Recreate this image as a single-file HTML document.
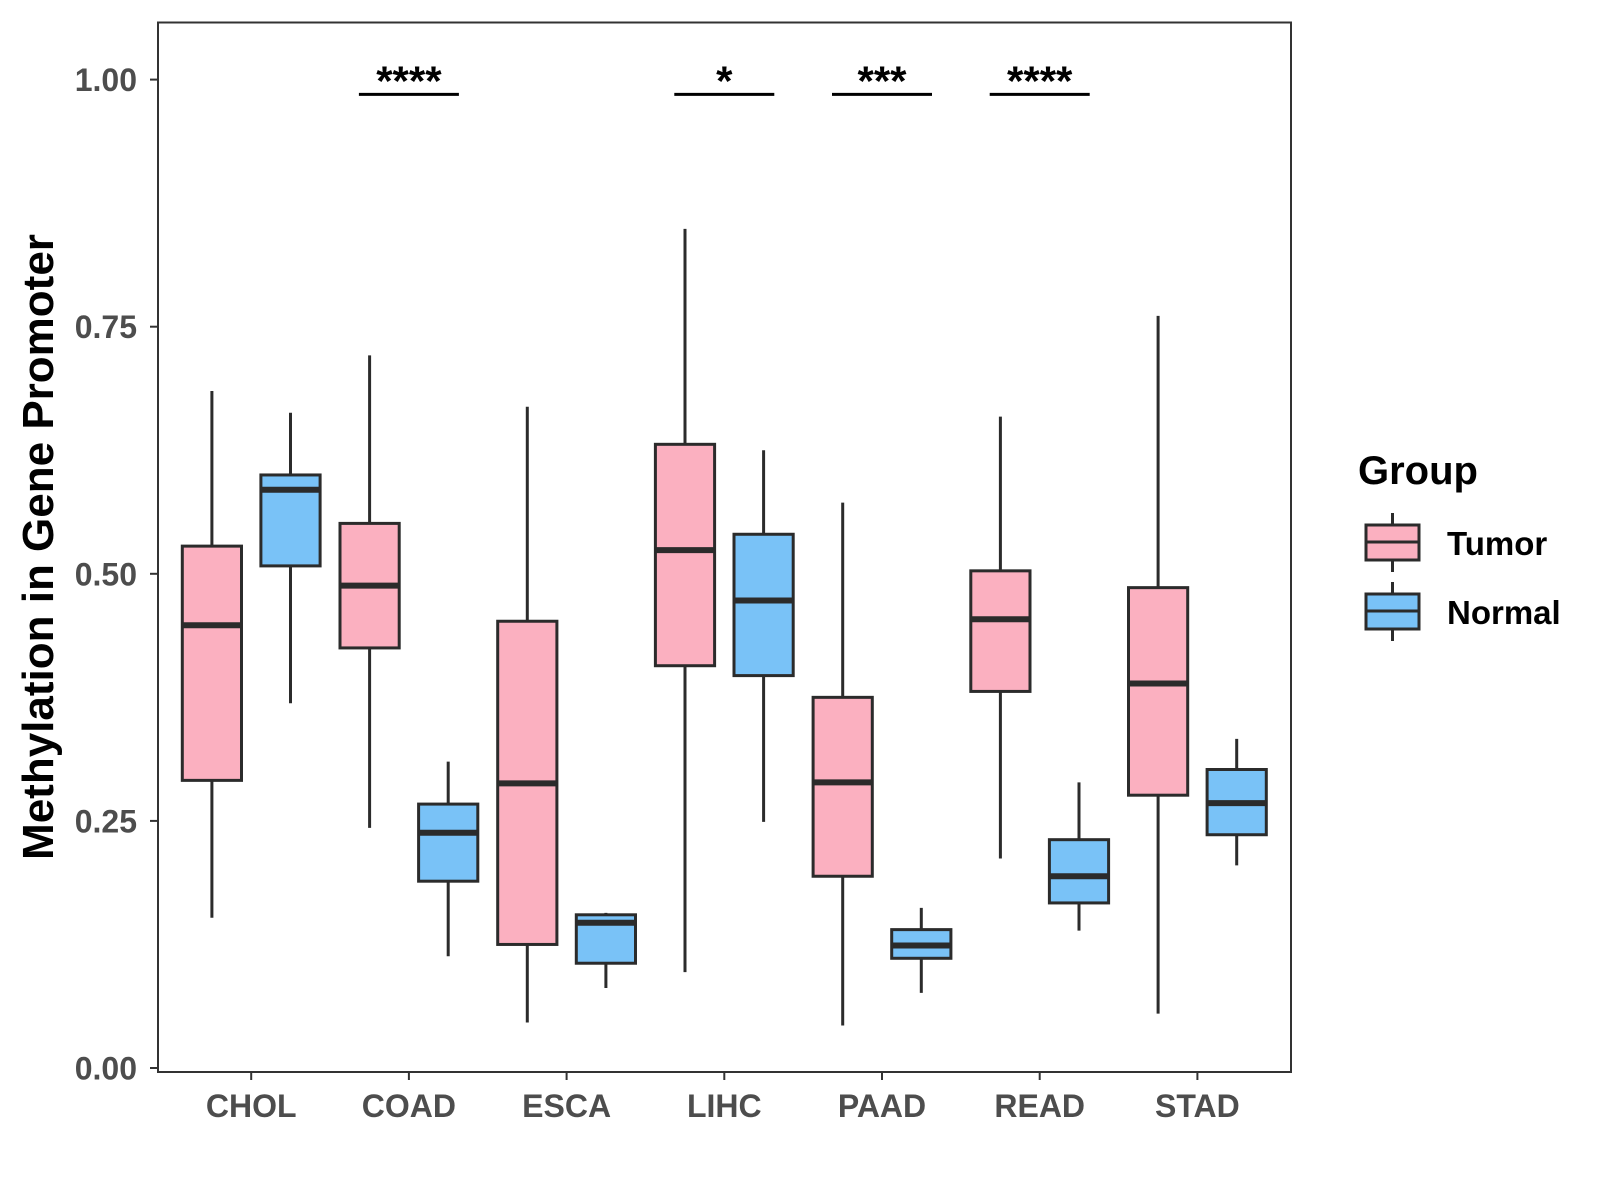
<!DOCTYPE html>
<html><head><meta charset="utf-8"><style>
body{margin:0;background:#fff;}
svg{display:block;font-family:"Liberation Sans",Arial,sans-serif;}
</style></head><body>
<svg id="chart" width="1600" height="1200" viewBox="0 0 1600 1200">
<rect x="158" y="22.5" width="1133" height="1049.5" fill="#fff" stroke="#333" stroke-width="2"/>
<g id="marks"></g>
<text transform="translate(53,547) rotate(-90)" text-anchor="middle" font-size="44" font-weight="bold" fill="#000">Methylation in Gene Promoter</text>
<g>
<text x="1358" y="484" font-size="40" font-weight="bold">Group</text>
<g>
<line x1="1392.5" y1="513" x2="1392.5" y2="572" stroke="#2b2b2b" stroke-width="3"/>
<rect x="1366" y="525" width="53" height="35" fill="#fbb0c0" stroke="#2b2b2b" stroke-width="3"/>
<line x1="1366" y1="542" x2="1419" y2="542" stroke="#2b2b2b" stroke-width="3"/>
<text x="1447" y="555" font-size="33" font-weight="bold">Tumor</text></g>
<g>
<line x1="1392.5" y1="582" x2="1392.5" y2="641" stroke="#2b2b2b" stroke-width="3"/>
<rect x="1366" y="594" width="53" height="35" fill="#79c2f7" stroke="#2b2b2b" stroke-width="3"/>
<line x1="1366" y1="611" x2="1419" y2="611" stroke="#2b2b2b" stroke-width="3"/>
<text x="1447" y="624" font-size="33" font-weight="bold">Normal</text></g>
</g>
</svg>
<script>
const categories=["CHOL","COAD","ESCA","LIHC","PAAD","READ","STAD"];
// [min,q1,median,q3,max]
const tumorStats=[[0.152,0.291,0.448,0.528,0.685],[0.243,0.425,0.488,0.551,0.721],[0.046,0.125,0.288,0.452,0.669],[0.097,0.407,0.524,0.631,0.849],[0.043,0.194,0.289,0.375,0.572],[0.212,0.381,0.454,0.503,0.659],[0.055,0.276,0.389,0.486,0.761]];
const normalStats=[[0.369,0.508,0.585,0.600,0.663],[0.113,0.189,0.238,0.267,0.310],[0.081,0.106,0.147,0.155,0.157],[0.249,0.397,0.473,0.540,0.625],[0.076,0.111,0.124,0.140,0.162],[0.139,0.167,0.194,0.231,0.289],[0.205,0.236,0.268,0.302,0.333]];
const yTicks=[0,0.25,0.5,0.75,1.0];
const yTickLabels=["0.00","0.25","0.50","0.75","1.00"];
const sigCategories=["COAD","LIHC","PAAD","READ"];
const sigLabels=["****","*","***","****"];
const sigLevel=0.985;

const NS="http://www.w3.org/2000/svg";
const g=document.getElementById("marks");
const y=v=>1068-v*988.4;
const x=i=>251.2+i*157.7;
const BW=59.2, OFF=39.3;
function el(t,a,p){const e=document.createElementNS(NS,t);for(const k in a)e.setAttribute(k,a[k]);(p||g).appendChild(e);return e;}
yTicks.forEach((t,i)=>{
 const l=el("line",{x1:150,x2:158,y1:y(t),y2:y(t),stroke:"#333","stroke-width":2});
 
 
 const tx=el("text",{x:137,y:y(t)+11.5,"text-anchor":"end","font-size":32,"font-weight":"bold",fill:"#4d4d4d"});
 tx.textContent=yTickLabels[i];
 
 
});
categories.forEach((c,i)=>{
 const l=el("line",{x1:x(i),x2:x(i),y1:1072,y2:1080,stroke:"#333","stroke-width":2});
 
 
 const tx=el("text",{x:x(i),y:1117,"text-anchor":"middle","font-size":32,"font-weight":"bold",fill:"#4d4d4d"});
 tx.textContent=c;
 
 
});
function box(cx,s,fill,name){
 const gr=el("g",{});
 
 
 el("line",{x1:cx,x2:cx,y1:y(s[0]),y2:y(s[4]),stroke:"#2b2b2b","stroke-width":3},gr);
 el("rect",{x:cx-BW/2,y:y(s[3]),width:BW,height:y(s[1])-y(s[3]),fill:fill,stroke:"#2b2b2b","stroke-width":3},gr);
 el("line",{x1:cx-BW/2,x2:cx+BW/2,y1:y(s[2]),y2:y(s[2]),stroke:"#2b2b2b","stroke-width":6},gr);
}
categories.forEach((c,i)=>{
 box(x(i)-OFF,tumorStats[i],"#fbb0c0","box-tumor-"+c.toLowerCase());
 box(x(i)+OFF,normalStats[i],"#79c2f7","box-normal-"+c.toLowerCase());
});
sigCategories.forEach((c,k)=>{
 const i=categories.indexOf(c);
 const l=el("line",{x1:x(i)-50,x2:x(i)+50,y1:y(sigLevel),y2:y(sigLevel),stroke:"#000","stroke-width":3});
 
 
 const t=el("text",{x:x(i),y:y(sigLevel)+1,"text-anchor":"middle","font-size":42,"font-weight":"bold",fill:"#000"});
 t.textContent=sigLabels[k];
 
 
});
</script>
</body></html>
